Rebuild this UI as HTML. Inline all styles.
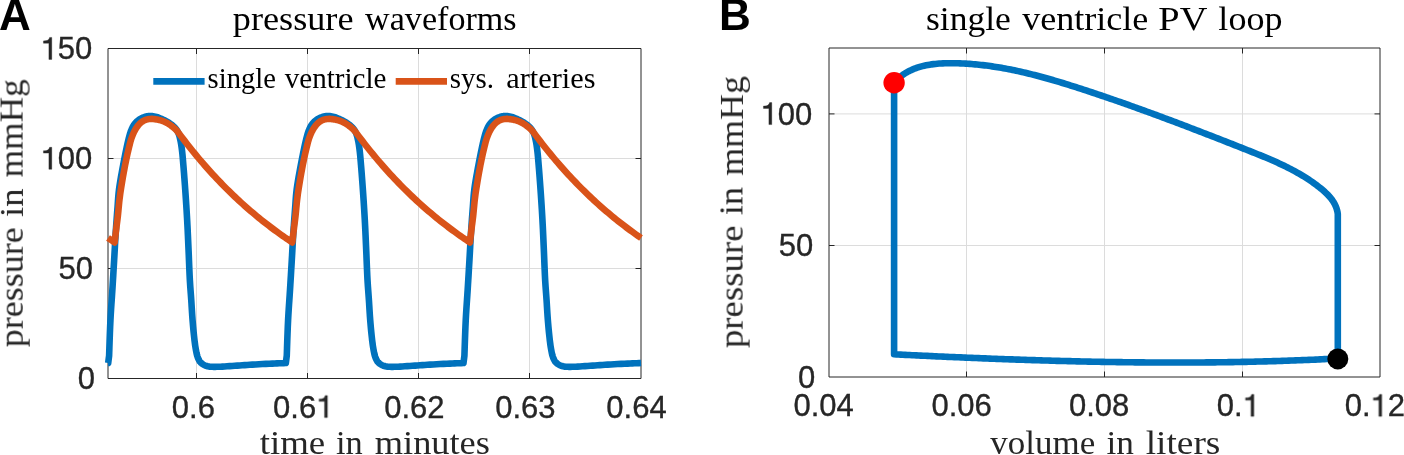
<!DOCTYPE html>
<html><head><meta charset="utf-8"><title>pressure waveforms and PV loop</title>
<style>html,body{margin:0;padding:0;background:#fff;overflow:hidden}svg{display:block;will-change:transform}svg text{will-change:transform}</style>
</head><body>
<svg width="1404" height="455" viewBox="0 0 1404 455">
<rect width="1404" height="455" fill="#fff"/>
<line x1="196.50" y1="48.5" x2="196.50" y2="378.5" stroke="#dcdcdc" stroke-width="1.0"/>
<line x1="307.50" y1="48.5" x2="307.50" y2="378.5" stroke="#dcdcdc" stroke-width="1.0"/>
<line x1="418.50" y1="48.5" x2="418.50" y2="378.5" stroke="#dcdcdc" stroke-width="1.0"/>
<line x1="529.50" y1="48.5" x2="529.50" y2="378.5" stroke="#dcdcdc" stroke-width="1.0"/>
<line x1="108.0" y1="268.50" x2="641.0" y2="268.50" stroke="#dcdcdc" stroke-width="1.0"/>
<line x1="108.0" y1="158.50" x2="641.0" y2="158.50" stroke="#dcdcdc" stroke-width="1.0"/>
<path d="M108.0,48.5 L641.0,48.5 L641.0,378.5 L108.0,378.5 Z" fill="none" stroke="#262626" stroke-width="1.0" stroke-linejoin="miter"/>
<line x1="196.50" y1="378.5" x2="196.50" y2="373.0" stroke="#262626" stroke-width="1.0"/>
<line x1="196.50" y1="48.5" x2="196.50" y2="54.0" stroke="#262626" stroke-width="1.0"/>
<line x1="307.50" y1="378.5" x2="307.50" y2="373.0" stroke="#262626" stroke-width="1.0"/>
<line x1="307.50" y1="48.5" x2="307.50" y2="54.0" stroke="#262626" stroke-width="1.0"/>
<line x1="418.50" y1="378.5" x2="418.50" y2="373.0" stroke="#262626" stroke-width="1.0"/>
<line x1="418.50" y1="48.5" x2="418.50" y2="54.0" stroke="#262626" stroke-width="1.0"/>
<line x1="529.50" y1="378.5" x2="529.50" y2="373.0" stroke="#262626" stroke-width="1.0"/>
<line x1="529.50" y1="48.5" x2="529.50" y2="54.0" stroke="#262626" stroke-width="1.0"/>
<line x1="108.0" y1="268.50" x2="113.5" y2="268.50" stroke="#262626" stroke-width="1.0"/>
<line x1="641.0" y1="268.50" x2="635.5" y2="268.50" stroke="#262626" stroke-width="1.0"/>
<line x1="108.0" y1="158.50" x2="113.5" y2="158.50" stroke="#262626" stroke-width="1.0"/>
<line x1="641.0" y1="158.50" x2="635.5" y2="158.50" stroke="#262626" stroke-width="1.0"/>
<path d="M108.00,363.01 L108.20,363.00 L109.11,355.74 L109.36,348.38 L109.60,341.02 L109.86,333.76 L110.14,326.72 L110.45,320.00 L110.74,314.69 L111.05,309.60 L111.37,304.66 L111.71,299.80 L112.03,294.94 L112.35,290.00 L112.66,284.99 L112.96,279.96 L113.27,274.94 L113.56,269.92 L113.86,264.94 L114.15,260.00 L114.42,255.26 L114.68,250.54 L114.94,245.84 L115.20,241.18 L115.47,236.56 L115.75,232.00 L116.04,227.69 L116.33,223.38 L116.64,219.11 L116.95,214.92 L117.25,210.87 L117.55,207.00 L117.77,204.01 L117.95,201.21 L118.14,198.49 L118.35,195.78 L118.61,192.98 L118.95,190.00 L119.50,186.03 L120.16,181.78 L120.90,177.39 L121.68,173.03 L122.44,168.85 L123.15,165.00 L123.67,162.24 L124.18,159.60 L124.69,157.07 L125.18,154.63 L125.67,152.28 L126.15,150.00 L126.52,148.21 L126.88,146.50 L127.22,144.85 L127.58,143.23 L127.95,141.62 L128.35,140.00 L128.76,138.38 L129.18,136.74 L129.62,135.11 L130.09,133.52 L130.59,131.97 L131.15,130.50 L131.68,129.24 L132.24,128.01 L132.82,126.82 L133.45,125.68 L134.12,124.60 L134.85,123.60 L135.56,122.75 L136.33,121.96 L137.13,121.22 L137.96,120.53 L138.80,119.89 L139.65,119.30 L140.43,118.81 L141.23,118.37 L142.04,117.97 L142.86,117.61 L143.70,117.29 L144.55,117.00 L145.42,116.74 L146.30,116.50 L147.19,116.31 L148.10,116.15 L149.02,116.05 L149.95,116.00 L150.99,116.01 L152.06,116.09 L153.14,116.23 L154.23,116.41 L155.30,116.64 L156.35,116.90 L157.38,117.21 L158.40,117.58 L159.42,117.99 L160.41,118.42 L161.39,118.87 L162.35,119.30 L163.22,119.69 L164.07,120.08 L164.90,120.48 L165.72,120.90 L166.54,121.33 L167.35,121.80 L168.21,122.33 L169.08,122.88 L169.94,123.47 L170.78,124.07 L171.59,124.68 L172.35,125.30 L173.00,125.86 L173.62,126.42 L174.22,126.98 L174.79,127.57 L175.33,128.17 L175.85,128.80 L176.33,129.44 L176.78,130.10 L177.21,130.77 L177.61,131.47 L177.99,132.21 L178.35,133.00 L178.76,134.03 L179.12,135.13 L179.46,136.29 L179.77,137.49 L180.06,138.73 L180.35,140.00 L180.67,141.53 L180.96,143.12 L181.23,144.75 L181.48,146.44 L181.72,148.19 L181.95,150.00 L182.22,152.28 L182.46,154.63 L182.68,157.07 L182.90,159.60 L183.12,162.24 L183.35,165.00 L183.66,168.77 L183.98,172.78 L184.30,176.96 L184.62,181.26 L184.94,185.63 L185.25,190.00 L185.58,194.84 L185.92,199.80 L186.24,204.83 L186.56,209.90 L186.86,214.97 L187.15,220.00 L187.41,225.00 L187.66,230.00 L187.89,235.00 L188.11,240.00 L188.33,245.00 L188.55,250.00 L188.77,255.07 L188.97,260.22 L189.18,265.38 L189.39,270.45 L189.61,275.35 L189.85,280.00 L190.07,283.57 L190.30,286.97 L190.54,290.25 L190.78,293.48 L191.02,296.71 L191.25,300.00 L191.47,303.35 L191.67,306.71 L191.87,310.07 L192.08,313.41 L192.31,316.73 L192.55,320.00 L192.80,323.11 L193.07,326.24 L193.36,329.34 L193.65,332.37 L193.95,335.27 L194.25,338.00 L194.48,340.01 L194.71,341.94 L194.95,343.79 L195.19,345.58 L195.46,347.31 L195.75,349.00 L196.01,350.40 L196.26,351.78 L196.53,353.11 L196.83,354.39 L197.16,355.63 L197.55,356.80 L197.91,357.75 L198.28,358.67 L198.69,359.56 L199.13,360.39 L199.61,361.18 L200.15,361.90 L200.70,362.51 L201.29,363.07 L201.92,363.59 L202.58,364.07 L203.26,364.50 L203.95,364.90 L204.65,365.25 L205.37,365.55 L206.11,365.81 L206.87,366.03 L207.61,366.23 L208.35,366.40 L209.00,366.53 L209.62,366.62 L210.24,366.69 L210.89,366.73 L211.58,366.77 L212.35,366.80 L213.73,366.83 L215.27,366.83 L216.94,366.80 L218.70,366.75 L220.51,366.68 L222.35,366.60 L224.68,366.48 L227.13,366.33 L229.66,366.15 L232.24,365.96 L234.82,365.78 L237.35,365.60 L239.82,365.43 L242.27,365.26 L244.71,365.09 L247.19,364.92 L249.72,364.76 L252.35,364.60 L255.56,364.42 L258.95,364.24 L262.41,364.07 L265.87,363.91 L269.21,363.75 L272.35,363.60 L274.75,363.49 L277.05,363.39 L279.27,363.29 L281.45,363.19 L283.63,363.10 L285.85,363.00 L286.76,355.74 L287.01,348.38 L287.25,341.02 L287.51,333.76 L287.79,326.72 L288.10,320.00 L288.39,314.69 L288.70,309.60 L289.02,304.66 L289.36,299.80 L289.68,294.94 L290.00,290.00 L290.31,284.99 L290.61,279.96 L290.92,274.94 L291.21,269.92 L291.51,264.94 L291.80,260.00 L292.07,255.26 L292.33,250.54 L292.59,245.84 L292.85,241.18 L293.12,236.56 L293.40,232.00 L293.69,227.69 L293.98,223.38 L294.29,219.11 L294.60,214.92 L294.90,210.87 L295.20,207.00 L295.42,204.01 L295.60,201.21 L295.79,198.49 L296.00,195.78 L296.26,192.98 L296.60,190.00 L297.15,186.03 L297.81,181.78 L298.55,177.39 L299.33,173.03 L300.09,168.85 L300.80,165.00 L301.32,162.24 L301.83,159.60 L302.34,157.07 L302.83,154.63 L303.32,152.28 L303.80,150.00 L304.17,148.21 L304.53,146.50 L304.87,144.85 L305.23,143.23 L305.60,141.62 L306.00,140.00 L306.41,138.38 L306.83,136.74 L307.27,135.11 L307.74,133.52 L308.24,131.97 L308.80,130.50 L309.33,129.24 L309.89,128.01 L310.47,126.82 L311.10,125.68 L311.77,124.60 L312.50,123.60 L313.21,122.75 L313.98,121.96 L314.78,121.22 L315.61,120.53 L316.45,119.89 L317.30,119.30 L318.08,118.81 L318.88,118.37 L319.69,117.97 L320.51,117.61 L321.35,117.29 L322.20,117.00 L323.07,116.74 L323.95,116.50 L324.84,116.31 L325.75,116.15 L326.67,116.05 L327.60,116.00 L328.64,116.01 L329.71,116.09 L330.79,116.23 L331.88,116.41 L332.95,116.64 L334.00,116.90 L335.03,117.21 L336.05,117.58 L337.07,117.99 L338.06,118.42 L339.04,118.87 L340.00,119.30 L340.87,119.69 L341.72,120.08 L342.55,120.48 L343.37,120.90 L344.19,121.33 L345.00,121.80 L345.86,122.33 L346.73,122.88 L347.59,123.47 L348.43,124.07 L349.24,124.68 L350.00,125.30 L350.65,125.86 L351.27,126.42 L351.87,126.98 L352.44,127.57 L352.98,128.17 L353.50,128.80 L353.98,129.44 L354.43,130.10 L354.86,130.77 L355.26,131.47 L355.64,132.21 L356.00,133.00 L356.41,134.03 L356.77,135.13 L357.11,136.29 L357.42,137.49 L357.71,138.73 L358.00,140.00 L358.32,141.53 L358.61,143.12 L358.88,144.75 L359.13,146.44 L359.37,148.19 L359.60,150.00 L359.87,152.28 L360.11,154.63 L360.33,157.07 L360.55,159.60 L360.77,162.24 L361.00,165.00 L361.31,168.77 L361.63,172.78 L361.95,176.96 L362.27,181.26 L362.59,185.63 L362.90,190.00 L363.23,194.84 L363.57,199.80 L363.89,204.83 L364.21,209.90 L364.51,214.97 L364.80,220.00 L365.06,225.00 L365.31,230.00 L365.54,235.00 L365.76,240.00 L365.98,245.00 L366.20,250.00 L366.42,255.07 L366.62,260.22 L366.83,265.38 L367.04,270.45 L367.26,275.35 L367.50,280.00 L367.72,283.57 L367.95,286.97 L368.19,290.25 L368.43,293.48 L368.67,296.71 L368.90,300.00 L369.12,303.35 L369.32,306.71 L369.52,310.07 L369.73,313.41 L369.96,316.73 L370.20,320.00 L370.45,323.11 L370.72,326.24 L371.01,329.34 L371.30,332.37 L371.60,335.27 L371.90,338.00 L372.13,340.01 L372.36,341.94 L372.60,343.79 L372.84,345.58 L373.11,347.31 L373.40,349.00 L373.66,350.40 L373.91,351.78 L374.18,353.11 L374.48,354.39 L374.81,355.63 L375.20,356.80 L375.56,357.75 L375.93,358.67 L376.34,359.56 L376.78,360.39 L377.26,361.18 L377.80,361.90 L378.35,362.51 L378.94,363.07 L379.57,363.59 L380.23,364.07 L380.91,364.50 L381.60,364.90 L382.30,365.25 L383.02,365.55 L383.76,365.81 L384.52,366.03 L385.26,366.23 L386.00,366.40 L386.65,366.53 L387.27,366.62 L387.89,366.69 L388.54,366.73 L389.23,366.77 L390.00,366.80 L391.38,366.83 L392.92,366.83 L394.59,366.80 L396.35,366.75 L398.16,366.68 L400.00,366.60 L402.33,366.48 L404.78,366.33 L407.31,366.15 L409.89,365.96 L412.47,365.78 L415.00,365.60 L417.47,365.43 L419.92,365.26 L422.36,365.09 L424.84,364.92 L427.37,364.76 L430.00,364.60 L433.21,364.42 L436.60,364.24 L440.06,364.07 L443.52,363.91 L446.86,363.75 L450.00,363.60 L452.40,363.49 L454.70,363.39 L456.92,363.29 L459.10,363.19 L461.28,363.10 L463.50,363.00 L464.41,355.74 L464.66,348.38 L464.90,341.02 L465.16,333.76 L465.44,326.72 L465.75,320.00 L466.04,314.69 L466.35,309.60 L466.67,304.66 L467.01,299.80 L467.33,294.94 L467.65,290.00 L467.96,284.99 L468.26,279.96 L468.57,274.94 L468.86,269.92 L469.16,264.94 L469.45,260.00 L469.72,255.26 L469.98,250.54 L470.24,245.84 L470.50,241.18 L470.77,236.56 L471.05,232.00 L471.34,227.69 L471.63,223.38 L471.94,219.11 L472.25,214.92 L472.55,210.87 L472.85,207.00 L473.07,204.01 L473.25,201.21 L473.44,198.49 L473.65,195.78 L473.91,192.98 L474.25,190.00 L474.80,186.03 L475.46,181.78 L476.20,177.39 L476.98,173.03 L477.74,168.85 L478.45,165.00 L478.97,162.24 L479.48,159.60 L479.99,157.07 L480.48,154.63 L480.97,152.28 L481.45,150.00 L481.82,148.21 L482.18,146.50 L482.52,144.85 L482.88,143.23 L483.25,141.62 L483.65,140.00 L484.06,138.38 L484.48,136.74 L484.92,135.11 L485.39,133.52 L485.89,131.97 L486.45,130.50 L486.98,129.24 L487.54,128.01 L488.12,126.82 L488.75,125.68 L489.42,124.60 L490.15,123.60 L490.86,122.75 L491.63,121.96 L492.43,121.22 L493.26,120.53 L494.10,119.89 L494.95,119.30 L495.73,118.81 L496.53,118.37 L497.34,117.97 L498.16,117.61 L499.00,117.29 L499.85,117.00 L500.72,116.74 L501.60,116.50 L502.49,116.31 L503.40,116.15 L504.32,116.05 L505.25,116.00 L506.29,116.01 L507.36,116.09 L508.44,116.23 L509.53,116.41 L510.60,116.64 L511.65,116.90 L512.68,117.21 L513.70,117.58 L514.72,117.99 L515.71,118.42 L516.69,118.87 L517.65,119.30 L518.52,119.69 L519.37,120.08 L520.20,120.48 L521.02,120.90 L521.84,121.33 L522.65,121.80 L523.51,122.33 L524.38,122.88 L525.24,123.47 L526.08,124.07 L526.89,124.68 L527.65,125.30 L528.30,125.86 L528.92,126.42 L529.52,126.98 L530.09,127.57 L530.63,128.17 L531.15,128.80 L531.63,129.44 L532.08,130.10 L532.51,130.77 L532.91,131.47 L533.29,132.21 L533.65,133.00 L534.06,134.03 L534.42,135.13 L534.76,136.29 L535.07,137.49 L535.36,138.73 L535.65,140.00 L535.97,141.53 L536.26,143.12 L536.53,144.75 L536.78,146.44 L537.02,148.19 L537.25,150.00 L537.52,152.28 L537.76,154.63 L537.98,157.07 L538.20,159.60 L538.42,162.24 L538.65,165.00 L538.96,168.77 L539.28,172.78 L539.60,176.96 L539.92,181.26 L540.24,185.63 L540.55,190.00 L540.88,194.84 L541.22,199.80 L541.54,204.83 L541.86,209.90 L542.16,214.97 L542.45,220.00 L542.71,225.00 L542.96,230.00 L543.19,235.00 L543.41,240.00 L543.63,245.00 L543.85,250.00 L544.07,255.07 L544.27,260.22 L544.48,265.38 L544.69,270.45 L544.91,275.35 L545.15,280.00 L545.37,283.57 L545.60,286.97 L545.84,290.25 L546.08,293.48 L546.32,296.71 L546.55,300.00 L546.77,303.35 L546.97,306.71 L547.17,310.07 L547.38,313.41 L547.61,316.73 L547.85,320.00 L548.10,323.11 L548.37,326.24 L548.66,329.34 L548.95,332.37 L549.25,335.27 L549.55,338.00 L549.78,340.01 L550.01,341.94 L550.25,343.79 L550.49,345.58 L550.76,347.31 L551.05,349.00 L551.31,350.40 L551.56,351.78 L551.83,353.11 L552.13,354.39 L552.46,355.63 L552.85,356.80 L553.21,357.75 L553.58,358.67 L553.99,359.56 L554.43,360.39 L554.91,361.18 L555.45,361.90 L556.00,362.51 L556.59,363.07 L557.22,363.59 L557.88,364.07 L558.56,364.50 L559.25,364.90 L559.95,365.25 L560.67,365.55 L561.41,365.81 L562.17,366.03 L562.91,366.23 L563.65,366.40 L564.30,366.53 L564.92,366.62 L565.54,366.69 L566.19,366.73 L566.88,366.77 L567.65,366.80 L569.03,366.83 L570.57,366.83 L572.24,366.80 L574.00,366.75 L575.81,366.68 L577.65,366.60 L579.98,366.48 L582.43,366.33 L584.96,366.15 L587.54,365.96 L590.12,365.78 L592.65,365.60 L595.12,365.43 L597.57,365.26 L600.01,365.09 L602.49,364.92 L605.02,364.76 L607.65,364.60 L610.86,364.42 L614.25,364.24 L617.71,364.07 L621.17,363.91 L624.51,363.75 L627.65,363.60 L630.05,363.49 L632.35,363.39 L634.57,363.29 L636.75,363.19 L638.93,363.10 L641.00,363.01" fill="none" stroke="#0072bd" stroke-width="6.6" stroke-linejoin="round" stroke-linecap="butt"/>
<path d="M108.00,237.92 L109.20,238.74 L111.20,240.10 L113.20,241.44 L114.65,242.40 L114.93,239.98 L115.22,237.55 L115.50,235.12 L115.79,232.70 L116.07,230.32 L116.35,228.00 L116.60,225.96 L116.86,223.98 L117.11,222.04 L117.36,220.09 L117.61,218.09 L117.85,216.00 L118.12,213.43 L118.39,210.73 L118.64,207.96 L118.91,205.20 L119.17,202.52 L119.45,200.00 L119.68,198.09 L119.90,196.33 L120.12,194.63 L120.36,192.90 L120.64,191.05 L120.95,189.00 L121.51,185.48 L122.17,181.51 L122.89,177.29 L123.65,173.00 L124.41,168.84 L125.15,165.00 L125.74,162.03 L126.34,159.14 L126.94,156.34 L127.54,153.63 L128.15,151.02 L128.75,148.50 L129.23,146.52 L129.69,144.62 L130.14,142.78 L130.62,140.99 L131.15,139.23 L131.75,137.50 L132.38,135.85 L133.04,134.22 L133.75,132.62 L134.51,131.06 L135.31,129.58 L136.15,128.20 L136.94,127.05 L137.76,125.93 L138.62,124.88 L139.51,123.89 L140.42,122.99 L141.35,122.20 L142.15,121.61 L142.96,121.10 L143.79,120.64 L144.63,120.24 L145.48,119.90 L146.35,119.60 L147.21,119.36 L148.08,119.18 L148.96,119.05 L149.85,118.97 L150.75,118.92 L151.65,118.90 L152.59,118.92 L153.55,119.00 L154.51,119.12 L155.47,119.26 L156.42,119.43 L157.35,119.60 L158.21,119.77 L159.05,119.95 L159.88,120.15 L160.71,120.38 L161.53,120.62 L162.35,120.90 L163.20,121.22 L164.04,121.56 L164.87,121.93 L165.71,122.33 L166.53,122.75 L167.35,123.20 L168.21,123.71 L169.07,124.25 L169.92,124.82 L170.76,125.41 L171.57,126.01 L172.35,126.60 L173.04,127.14 L173.70,127.67 L174.35,128.22 L174.98,128.77 L175.58,129.33 L176.15,129.90 L176.64,130.44 L177.11,130.98 L177.55,131.53 L177.98,132.09 L178.41,132.65 L178.85,133.20 L180.85,135.88 L182.85,138.52 L184.85,141.13 L186.85,143.70 L188.85,146.25 L190.85,148.76 L192.85,151.24 L194.85,153.69 L196.85,156.11 L198.85,158.50 L200.85,160.86 L202.85,163.19 L204.85,165.49 L206.85,167.77 L208.85,170.01 L210.85,172.23 L212.85,174.42 L214.85,176.58 L216.85,178.71 L218.85,180.82 L220.85,182.90 L222.85,184.95 L224.85,186.98 L226.85,188.99 L228.85,190.96 L230.85,192.92 L232.85,194.85 L234.85,196.75 L236.85,198.63 L238.85,200.49 L240.85,202.33 L242.85,204.14 L244.85,205.93 L246.85,207.70 L248.85,209.44 L250.85,211.16 L252.85,212.86 L254.85,214.54 L256.85,216.20 L258.85,217.84 L260.85,219.46 L262.85,221.06 L264.85,222.64 L266.85,224.19 L268.85,225.73 L270.85,227.25 L272.85,228.75 L274.85,230.23 L276.85,231.70 L278.85,233.14 L280.85,234.57 L282.85,235.98 L284.85,237.37 L286.85,238.74 L288.85,240.10 L290.85,241.44 L292.30,242.40 L292.58,239.98 L292.87,237.55 L293.15,235.12 L293.44,232.70 L293.72,230.32 L294.00,228.00 L294.25,225.96 L294.51,223.98 L294.76,222.04 L295.01,220.09 L295.26,218.09 L295.50,216.00 L295.77,213.43 L296.04,210.73 L296.29,207.96 L296.56,205.20 L296.82,202.52 L297.10,200.00 L297.33,198.09 L297.55,196.33 L297.77,194.63 L298.01,192.90 L298.29,191.05 L298.60,189.00 L299.16,185.48 L299.82,181.51 L300.54,177.29 L301.30,173.00 L302.06,168.84 L302.80,165.00 L303.39,162.03 L303.99,159.14 L304.59,156.34 L305.19,153.63 L305.80,151.02 L306.40,148.50 L306.88,146.52 L307.34,144.62 L307.79,142.78 L308.27,140.99 L308.80,139.23 L309.40,137.50 L310.03,135.85 L310.69,134.22 L311.40,132.62 L312.16,131.06 L312.96,129.58 L313.80,128.20 L314.59,127.05 L315.41,125.93 L316.27,124.88 L317.16,123.89 L318.07,122.99 L319.00,122.20 L319.80,121.61 L320.61,121.10 L321.44,120.64 L322.28,120.24 L323.13,119.90 L324.00,119.60 L324.86,119.36 L325.73,119.18 L326.61,119.05 L327.50,118.97 L328.40,118.92 L329.30,118.90 L330.24,118.92 L331.20,119.00 L332.16,119.12 L333.12,119.26 L334.07,119.43 L335.00,119.60 L335.86,119.77 L336.70,119.95 L337.53,120.15 L338.36,120.38 L339.18,120.62 L340.00,120.90 L340.85,121.22 L341.69,121.56 L342.52,121.93 L343.36,122.33 L344.18,122.75 L345.00,123.20 L345.86,123.71 L346.72,124.25 L347.57,124.82 L348.41,125.41 L349.22,126.01 L350.00,126.60 L350.69,127.14 L351.35,127.67 L352.00,128.22 L352.63,128.77 L353.23,129.33 L353.80,129.90 L354.29,130.44 L354.76,130.98 L355.20,131.53 L355.63,132.09 L356.06,132.65 L356.50,133.20 L358.50,135.88 L360.50,138.52 L362.50,141.13 L364.50,143.70 L366.50,146.25 L368.50,148.76 L370.50,151.24 L372.50,153.69 L374.50,156.11 L376.50,158.50 L378.50,160.86 L380.50,163.19 L382.50,165.49 L384.50,167.77 L386.50,170.01 L388.50,172.23 L390.50,174.42 L392.50,176.58 L394.50,178.71 L396.50,180.82 L398.50,182.90 L400.50,184.95 L402.50,186.98 L404.50,188.99 L406.50,190.96 L408.50,192.92 L410.50,194.85 L412.50,196.75 L414.50,198.63 L416.50,200.49 L418.50,202.33 L420.50,204.14 L422.50,205.93 L424.50,207.70 L426.50,209.44 L428.50,211.16 L430.50,212.86 L432.50,214.54 L434.50,216.20 L436.50,217.84 L438.50,219.46 L440.50,221.06 L442.50,222.64 L444.50,224.19 L446.50,225.73 L448.50,227.25 L450.50,228.75 L452.50,230.23 L454.50,231.70 L456.50,233.14 L458.50,234.57 L460.50,235.98 L462.50,237.37 L464.50,238.74 L466.50,240.10 L468.50,241.44 L469.95,242.40 L470.23,239.98 L470.52,237.55 L470.80,235.12 L471.09,232.70 L471.37,230.32 L471.65,228.00 L471.90,225.96 L472.16,223.98 L472.41,222.04 L472.66,220.09 L472.91,218.09 L473.15,216.00 L473.42,213.43 L473.69,210.73 L473.94,207.96 L474.21,205.20 L474.47,202.52 L474.75,200.00 L474.98,198.09 L475.20,196.33 L475.42,194.63 L475.66,192.90 L475.94,191.05 L476.25,189.00 L476.81,185.48 L477.47,181.51 L478.19,177.29 L478.95,173.00 L479.71,168.84 L480.45,165.00 L481.04,162.03 L481.64,159.14 L482.24,156.34 L482.84,153.63 L483.45,151.02 L484.05,148.50 L484.53,146.52 L484.99,144.62 L485.44,142.78 L485.92,140.99 L486.45,139.23 L487.05,137.50 L487.68,135.85 L488.34,134.22 L489.05,132.62 L489.81,131.06 L490.61,129.58 L491.45,128.20 L492.24,127.05 L493.06,125.93 L493.92,124.88 L494.81,123.89 L495.72,122.99 L496.65,122.20 L497.45,121.61 L498.26,121.10 L499.09,120.64 L499.93,120.24 L500.78,119.90 L501.65,119.60 L502.51,119.36 L503.38,119.18 L504.26,119.05 L505.15,118.97 L506.05,118.92 L506.95,118.90 L507.89,118.92 L508.85,119.00 L509.81,119.12 L510.77,119.26 L511.72,119.43 L512.65,119.60 L513.51,119.77 L514.35,119.95 L515.18,120.15 L516.01,120.38 L516.83,120.62 L517.65,120.90 L518.50,121.22 L519.34,121.56 L520.17,121.93 L521.01,122.33 L521.83,122.75 L522.65,123.20 L523.51,123.71 L524.37,124.25 L525.22,124.82 L526.06,125.41 L526.87,126.01 L527.65,126.60 L528.34,127.14 L529.00,127.67 L529.65,128.22 L530.28,128.77 L530.88,129.33 L531.45,129.90 L531.94,130.44 L532.41,130.98 L532.85,131.53 L533.28,132.09 L533.71,132.65 L534.15,133.20 L536.15,135.88 L538.15,138.52 L540.15,141.13 L542.15,143.70 L544.15,146.25 L546.15,148.76 L548.15,151.24 L550.15,153.69 L552.15,156.11 L554.15,158.50 L556.15,160.86 L558.15,163.19 L560.15,165.49 L562.15,167.77 L564.15,170.01 L566.15,172.23 L568.15,174.42 L570.15,176.58 L572.15,178.71 L574.15,180.82 L576.15,182.90 L578.15,184.95 L580.15,186.98 L582.15,188.99 L584.15,190.96 L586.15,192.92 L588.15,194.85 L590.15,196.75 L592.15,198.63 L594.15,200.49 L596.15,202.33 L598.15,204.14 L600.15,205.93 L602.15,207.70 L604.15,209.44 L606.15,211.16 L608.15,212.86 L610.15,214.54 L612.15,216.20 L614.15,217.84 L616.15,219.46 L618.15,221.06 L620.15,222.64 L622.15,224.19 L624.15,225.73 L626.15,227.25 L628.15,228.75 L630.15,230.23 L632.15,231.70 L634.15,233.14 L636.15,234.57 L638.15,235.98 L640.15,237.37 L641.00,237.95" fill="none" stroke="#d95319" stroke-width="6.6" stroke-linejoin="round" stroke-linecap="butt"/>
<line x1="153.3" y1="81.4" x2="204.6" y2="81.4" stroke="#0072bd" stroke-width="6.9"/>
<line x1="395.7" y1="81.4" x2="447.0" y2="81.4" stroke="#d95319" stroke-width="6.9"/>
<line x1="966.50" y1="48.0" x2="966.50" y2="377.0" stroke="#dcdcdc" stroke-width="1.0"/>
<line x1="1104.50" y1="48.0" x2="1104.50" y2="377.0" stroke="#dcdcdc" stroke-width="1.0"/>
<line x1="1242.50" y1="48.0" x2="1242.50" y2="377.0" stroke="#dcdcdc" stroke-width="1.0"/>
<line x1="829.0" y1="245.50" x2="1380.0" y2="245.50" stroke="#dcdcdc" stroke-width="1.0"/>
<line x1="829.0" y1="113.90" x2="1380.0" y2="113.90" stroke="#dcdcdc" stroke-width="1.0"/>
<path d="M829.0,48.0 L1380.0,48.0 L1380.0,377.0 L829.0,377.0 Z" fill="none" stroke="#262626" stroke-width="1.0" stroke-linejoin="miter"/>
<line x1="966.50" y1="377.0" x2="966.50" y2="371.5" stroke="#262626" stroke-width="1.0"/>
<line x1="966.50" y1="48.0" x2="966.50" y2="53.5" stroke="#262626" stroke-width="1.0"/>
<line x1="1104.50" y1="377.0" x2="1104.50" y2="371.5" stroke="#262626" stroke-width="1.0"/>
<line x1="1104.50" y1="48.0" x2="1104.50" y2="53.5" stroke="#262626" stroke-width="1.0"/>
<line x1="1242.50" y1="377.0" x2="1242.50" y2="371.5" stroke="#262626" stroke-width="1.0"/>
<line x1="1242.50" y1="48.0" x2="1242.50" y2="53.5" stroke="#262626" stroke-width="1.0"/>
<line x1="829.0" y1="245.50" x2="834.5" y2="245.50" stroke="#262626" stroke-width="1.0"/>
<line x1="1380.0" y1="245.50" x2="1374.5" y2="245.50" stroke="#262626" stroke-width="1.0"/>
<line x1="829.0" y1="113.90" x2="834.5" y2="113.90" stroke="#262626" stroke-width="1.0"/>
<line x1="1380.0" y1="113.90" x2="1374.5" y2="113.90" stroke="#262626" stroke-width="1.0"/>
<path d="M894.10,82.70 L894.10,354.30 L896.33,354.41 L898.55,354.52 L900.78,354.63 L903.01,354.74 L905.24,354.85 L907.46,354.96 L909.69,355.07 L911.92,355.18 L914.15,355.28 L916.37,355.39 L918.60,355.50 L920.83,355.60 L923.06,355.71 L925.29,355.81 L927.51,355.92 L929.74,356.02 L931.97,356.12 L934.20,356.22 L936.43,356.33 L938.65,356.43 L940.88,356.53 L943.11,356.63 L945.34,356.73 L947.57,356.83 L949.80,356.93 L952.02,357.03 L954.25,357.12 L956.48,357.22 L958.71,357.32 L960.94,357.41 L963.17,357.51 L965.40,357.60 L967.62,357.69 L969.85,357.79 L972.08,357.88 L974.31,357.97 L976.54,358.06 L978.77,358.15 L981.00,358.24 L983.23,358.33 L985.46,358.42 L987.69,358.51 L989.92,358.59 L992.14,358.68 L994.37,358.77 L996.60,358.85 L998.83,358.93 L1001.06,359.02 L1003.29,359.10 L1005.52,359.18 L1007.75,359.26 L1009.98,359.34 L1012.21,359.42 L1014.44,359.50 L1016.67,359.58 L1018.90,359.65 L1021.13,359.73 L1023.36,359.80 L1025.59,359.88 L1027.82,359.95 L1030.05,360.02 L1032.28,360.10 L1034.51,360.17 L1036.74,360.24 L1038.97,360.31 L1041.20,360.37 L1043.43,360.44 L1045.66,360.51 L1047.89,360.57 L1050.12,360.64 L1052.35,360.70 L1054.58,360.76 L1056.81,360.83 L1059.04,360.89 L1061.27,360.95 L1063.50,361.00 L1065.73,361.06 L1067.96,361.12 L1070.19,361.17 L1072.42,361.23 L1074.65,361.28 L1076.88,361.34 L1079.11,361.39 L1081.34,361.44 L1083.57,361.49 L1085.80,361.54 L1088.03,361.59 L1090.26,361.63 L1092.49,361.68 L1094.72,361.72 L1096.95,361.77 L1099.18,361.81 L1101.41,361.85 L1103.64,361.89 L1105.87,361.93 L1108.10,361.97 L1110.33,362.00 L1112.56,362.04 L1114.79,362.07 L1117.03,362.11 L1119.26,362.14 L1121.49,362.17 L1123.72,362.20 L1125.95,362.23 L1128.18,362.26 L1130.41,362.28 L1132.64,362.31 L1134.87,362.33 L1137.10,362.35 L1139.33,362.37 L1141.56,362.39 L1143.79,362.41 L1146.02,362.43 L1148.25,362.45 L1150.48,362.46 L1152.71,362.48 L1154.94,362.49 L1157.18,362.50 L1159.41,362.51 L1161.64,362.52 L1163.87,362.53 L1166.10,362.53 L1168.33,362.54 L1170.56,362.54 L1172.79,362.55 L1175.02,362.55 L1177.25,362.55 L1179.48,362.54 L1181.71,362.54 L1183.94,362.54 L1186.17,362.53 L1188.40,362.52 L1190.63,362.52 L1192.86,362.51 L1195.09,362.49 L1197.32,362.48 L1199.55,362.47 L1201.79,362.45 L1204.02,362.43 L1206.25,362.42 L1208.48,362.40 L1210.71,362.37 L1212.94,362.35 L1215.17,362.33 L1217.40,362.30 L1219.63,362.27 L1221.86,362.24 L1224.09,362.21 L1226.32,362.18 L1228.55,362.15 L1230.78,362.11 L1233.01,362.08 L1235.24,362.04 L1237.47,362.00 L1239.70,361.96 L1241.93,361.92 L1244.16,361.87 L1246.39,361.83 L1248.62,361.78 L1250.85,361.73 L1253.08,361.68 L1255.31,361.63 L1257.54,361.57 L1259.77,361.52 L1262.00,361.46 L1264.23,361.40 L1266.46,361.34 L1268.69,361.28 L1270.92,361.22 L1273.15,361.15 L1275.38,361.08 L1277.61,361.01 L1279.84,360.94 L1282.07,360.87 L1284.30,360.80 L1286.53,360.72 L1288.76,360.65 L1290.99,360.57 L1293.22,360.49 L1295.45,360.40 L1297.68,360.32 L1299.91,360.23 L1302.13,360.15 L1304.36,360.06 L1306.59,359.97 L1308.82,359.87 L1311.05,359.78 L1313.28,359.68 L1315.51,359.58 L1317.74,359.48 L1319.97,359.38 L1322.20,359.28 L1324.43,359.17 L1326.66,359.06 L1328.88,358.95 L1331.11,358.84 L1333.34,358.73 L1335.57,358.62 L1337.80,358.50 L1337.80,214.00 L1337.50,212.06 L1337.07,210.18 L1336.53,208.38 L1335.88,206.64 L1335.14,204.95 L1334.30,203.33 L1333.37,201.76 L1332.36,200.24 L1331.28,198.77 L1330.13,197.35 L1328.92,195.96 L1327.66,194.62 L1326.34,193.31 L1324.99,192.04 L1323.59,190.80 L1322.17,189.58 L1320.73,188.39 L1319.27,187.22 L1317.80,186.07 L1316.32,184.94 L1314.82,183.83 L1313.31,182.74 L1311.78,181.67 L1310.24,180.61 L1308.69,179.58 L1307.13,178.55 L1305.56,177.55 L1303.98,176.56 L1302.38,175.59 L1300.78,174.64 L1299.16,173.70 L1297.54,172.77 L1295.91,171.86 L1294.26,170.96 L1292.61,170.07 L1290.95,169.20 L1289.28,168.34 L1287.61,167.49 L1285.93,166.65 L1284.23,165.82 L1282.54,165.01 L1280.83,164.20 L1279.12,163.40 L1277.41,162.62 L1275.69,161.84 L1273.96,161.07 L1272.23,160.30 L1270.49,159.55 L1268.75,158.80 L1267.01,158.06 L1265.26,157.32 L1263.51,156.59 L1261.75,155.87 L1260.00,155.15 L1258.24,154.43 L1256.48,153.72 L1254.71,153.01 L1252.95,152.31 L1251.18,151.60 L1249.42,150.90 L1247.65,150.20 L1245.88,149.51 L1244.12,148.81 L1242.35,148.11 L1240.59,147.42 L1238.82,146.72 L1237.06,146.03 L1235.29,145.33 L1233.53,144.64 L1231.77,143.94 L1230.00,143.25 L1228.24,142.56 L1226.48,141.87 L1224.72,141.18 L1222.95,140.49 L1221.19,139.80 L1219.43,139.11 L1217.67,138.43 L1215.91,137.74 L1214.15,137.05 L1212.39,136.37 L1210.63,135.68 L1208.87,135.00 L1207.11,134.32 L1205.34,133.64 L1203.58,132.96 L1201.82,132.28 L1200.06,131.60 L1198.30,130.92 L1196.54,130.24 L1194.78,129.57 L1193.02,128.89 L1191.26,128.22 L1189.50,127.54 L1187.74,126.87 L1185.98,126.20 L1184.22,125.53 L1182.46,124.86 L1180.70,124.19 L1178.94,123.53 L1177.18,122.86 L1175.42,122.20 L1173.66,121.53 L1171.90,120.87 L1170.14,120.21 L1168.38,119.55 L1166.62,118.89 L1164.85,118.24 L1163.09,117.58 L1161.33,116.92 L1159.57,116.27 L1157.80,115.62 L1156.04,114.97 L1154.28,114.32 L1152.51,113.67 L1150.75,113.02 L1148.98,112.37 L1147.22,111.73 L1145.45,111.09 L1143.69,110.44 L1141.92,109.80 L1140.15,109.17 L1138.39,108.53 L1136.62,107.89 L1134.85,107.26 L1133.08,106.62 L1131.31,105.99 L1129.54,105.36 L1127.77,104.73 L1126.00,104.11 L1124.23,103.48 L1122.46,102.86 L1120.68,102.23 L1118.91,101.61 L1117.14,100.99 L1115.36,100.38 L1113.59,99.76 L1111.81,99.15 L1110.03,98.53 L1108.26,97.92 L1106.48,97.31 L1104.70,96.71 L1102.92,96.10 L1101.14,95.50 L1099.36,94.89 L1097.58,94.29 L1095.79,93.69 L1094.01,93.10 L1092.22,92.50 L1090.44,91.91 L1088.65,91.32 L1086.87,90.73 L1085.08,90.14 L1083.29,89.55 L1081.50,88.97 L1079.71,88.39 L1077.92,87.81 L1076.12,87.23 L1074.33,86.66 L1072.53,86.09 L1070.74,85.52 L1068.94,84.95 L1067.14,84.39 L1065.34,83.83 L1063.54,83.28 L1061.74,82.73 L1059.94,82.18 L1058.13,81.64 L1056.33,81.10 L1054.52,80.57 L1052.71,80.04 L1050.90,79.52 L1049.09,79.00 L1047.28,78.49 L1045.46,77.98 L1043.65,77.48 L1041.83,76.98 L1040.01,76.49 L1038.19,76.01 L1036.37,75.53 L1034.55,75.06 L1032.73,74.59 L1030.90,74.14 L1029.07,73.68 L1027.24,73.24 L1025.41,72.80 L1023.58,72.37 L1021.75,71.95 L1019.91,71.54 L1018.07,71.13 L1016.23,70.73 L1014.39,70.34 L1012.55,69.96 L1010.70,69.59 L1008.86,69.22 L1007.01,68.87 L1005.16,68.52 L1003.31,68.19 L1001.45,67.86 L999.60,67.54 L997.74,67.23 L995.88,66.94 L994.01,66.65 L992.15,66.37 L990.28,66.10 L988.41,65.85 L986.54,65.60 L984.67,65.36 L982.79,65.14 L980.92,64.93 L979.04,64.73 L977.16,64.54 L975.27,64.36 L973.38,64.19 L971.50,64.04 L969.60,63.90 L967.71,63.77 L965.82,63.65 L963.92,63.55 L962.02,63.46 L960.11,63.38 L958.21,63.32 L956.30,63.27 L954.39,63.23 L952.48,63.21 L950.56,63.20 L948.65,63.21 L946.73,63.24 L944.82,63.29 L942.92,63.36 L941.01,63.46 L939.12,63.58 L937.22,63.73 L935.34,63.91 L933.47,64.12 L931.60,64.36 L929.75,64.64 L927.91,64.95 L926.08,65.30 L924.27,65.69 L922.48,66.12 L920.70,66.59 L918.93,67.11 L917.19,67.67 L915.47,68.28 L913.77,68.93 L912.09,69.64 L910.43,70.40 L908.80,71.22 L907.20,72.09 L905.62,73.02 L904.07,74.00 L902.55,75.05 L901.06,76.16 L899.60,77.33 L898.17,78.57 L896.78,79.88 L895.42,81.25 L894.10,82.70" fill="none" stroke="#0072bd" stroke-width="6.6" stroke-linejoin="round" stroke-linecap="butt"/>
<circle cx="894.1" cy="82.7" r="10.7" fill="#ff0000"/>
<circle cx="1337.8" cy="358.9" r="10.5" fill="#000"/>
<text x="-1.10" y="29.90" font-family='"Liberation Sans", sans-serif' font-size="44" font-weight="bold" fill="#000" text-anchor="start">A</text>
<text x="719.00" y="29.90" font-family='"Liberation Sans", sans-serif' font-size="44" font-weight="bold" fill="#000" text-anchor="start">B</text>
<path d="M0.360,0 L0.360,0.709 L0.290,0.709 C0.276,0.655 0.246,0.618 0.190,0.606 C0.160,0.600 0.125,0.598 0.092,0.597 L0.092,0.522 L0.268,0.522 L0.268,0 Z" transform="translate(40.60 59.40) scale(31 -31)" fill="#262626" stroke="#262626" stroke-width="0.0113"/><text x="57.84" y="59.40" font-family='"Liberation Sans", sans-serif' font-size="31" fill="#262626" stroke="#262626" stroke-width="0.35">50</text>
<path d="M0.360,0 L0.360,0.709 L0.290,0.709 C0.276,0.655 0.246,0.618 0.190,0.606 C0.160,0.600 0.125,0.598 0.092,0.597 L0.092,0.522 L0.268,0.522 L0.268,0 Z" transform="translate(40.60 169.30) scale(31 -31)" fill="#262626" stroke="#262626" stroke-width="0.0113"/><text x="57.84" y="169.30" font-family='"Liberation Sans", sans-serif' font-size="31" fill="#262626" stroke="#262626" stroke-width="0.35">00</text>
<text x="58.50" y="279.30" font-family='"Liberation Sans", sans-serif' font-size="31" fill="#262626" stroke="#262626" stroke-width="0.35">50</text>
<text x="77.80" y="389.30" font-family='"Liberation Sans", sans-serif' font-size="31" fill="#262626" stroke="#262626" stroke-width="0.35">0</text>
<text x="171.80" y="417.60" font-family='"Liberation Sans", sans-serif' font-size="31" fill="#262626" stroke="#262626" stroke-width="0.35">0.6</text>
<text x="273.10" y="417.60" font-family='"Liberation Sans", sans-serif' font-size="31" fill="#262626" stroke="#262626" stroke-width="0.35">0.6</text><path d="M0.360,0 L0.360,0.709 L0.290,0.709 C0.276,0.655 0.246,0.618 0.190,0.606 C0.160,0.600 0.125,0.598 0.092,0.597 L0.092,0.522 L0.268,0.522 L0.268,0 Z" transform="translate(316.19 417.60) scale(31 -31)" fill="#262626" stroke="#262626" stroke-width="0.0113"/>
<text x="384.20" y="417.60" font-family='"Liberation Sans", sans-serif' font-size="31" fill="#262626" stroke="#262626" stroke-width="0.35">0.62</text>
<text x="495.20" y="417.60" font-family='"Liberation Sans", sans-serif' font-size="31" fill="#262626" stroke="#262626" stroke-width="0.35">0.63</text>
<text x="606.30" y="417.60" font-family='"Liberation Sans", sans-serif' font-size="31" fill="#262626" stroke="#262626" stroke-width="0.35">0.64</text>
<path d="M0.360,0 L0.360,0.709 L0.290,0.709 C0.276,0.655 0.246,0.618 0.190,0.606 C0.160,0.600 0.125,0.598 0.092,0.597 L0.092,0.522 L0.268,0.522 L0.268,0 Z" transform="translate(760.60 124.60) scale(31 -31)" fill="#262626" stroke="#262626" stroke-width="0.0113"/><text x="777.84" y="124.60" font-family='"Liberation Sans", sans-serif' font-size="31" fill="#262626" stroke="#262626" stroke-width="0.35">00</text>
<text x="778.70" y="256.20" font-family='"Liberation Sans", sans-serif' font-size="31" fill="#262626" stroke="#262626" stroke-width="0.35">50</text>
<text x="798.00" y="387.70" font-family='"Liberation Sans", sans-serif' font-size="31" fill="#262626" stroke="#262626" stroke-width="0.35">0</text>
<text x="793.50" y="416.40" font-family='"Liberation Sans", sans-serif' font-size="31" fill="#262626" stroke="#262626" stroke-width="0.35">0.04</text>
<text x="931.40" y="416.40" font-family='"Liberation Sans", sans-serif' font-size="31" fill="#262626" stroke="#262626" stroke-width="0.35">0.06</text>
<text x="1069.00" y="416.40" font-family='"Liberation Sans", sans-serif' font-size="31" fill="#262626" stroke="#262626" stroke-width="0.35">0.08</text>
<text x="1216.80" y="416.40" font-family='"Liberation Sans", sans-serif' font-size="31" fill="#262626" stroke="#262626" stroke-width="0.35">0.</text><path d="M0.360,0 L0.360,0.709 L0.290,0.709 C0.276,0.655 0.246,0.618 0.190,0.606 C0.160,0.600 0.125,0.598 0.092,0.597 L0.092,0.522 L0.268,0.522 L0.268,0 Z" transform="translate(1242.65 416.40) scale(31 -31)" fill="#262626" stroke="#262626" stroke-width="0.0113"/>
<text x="1344.70" y="416.40" font-family='"Liberation Sans", sans-serif' font-size="31" fill="#262626" stroke="#262626" stroke-width="0.35">0.</text><path d="M0.360,0 L0.360,0.709 L0.290,0.709 C0.276,0.655 0.246,0.618 0.190,0.606 C0.160,0.600 0.125,0.598 0.092,0.597 L0.092,0.522 L0.268,0.522 L0.268,0 Z" transform="translate(1370.55 416.40) scale(31 -31)" fill="#262626" stroke="#262626" stroke-width="0.0113"/><text x="1387.79" y="416.40" font-family='"Liberation Sans", sans-serif' font-size="31" fill="#262626" stroke="#262626" stroke-width="0.35">2</text>
<text x="232.82" y="30.20" font-family='"Liberation Serif", serif' font-size="34.0" fill="#000" textLength="120.65" lengthAdjust="spacingAndGlyphs">pressure</text>
<text x="365.07" y="30.20" font-family='"Liberation Serif", serif' font-size="34.0" fill="#000" textLength="151.56" lengthAdjust="spacingAndGlyphs">waveforms</text>
<text x="925.94" y="29.80" font-family='"Liberation Serif", serif' font-size="34.0" fill="#000" textLength="84.89" lengthAdjust="spacingAndGlyphs">single</text>
<text x="1022.20" y="29.80" font-family='"Liberation Serif", serif' font-size="34.0" fill="#000" textLength="126.16" lengthAdjust="spacingAndGlyphs">ventricle</text>
<text x="1158.39" y="29.80" font-family='"Liberation Serif", serif' font-size="34.0" fill="#000" textLength="48.94" lengthAdjust="spacingAndGlyphs">PV</text>
<text x="1218.38" y="29.80" font-family='"Liberation Serif", serif' font-size="34.0" fill="#000" textLength="64.12" lengthAdjust="spacingAndGlyphs">loop</text>
<text x="259.73" y="454.20" font-family='"Liberation Serif", serif' font-size="34.0" fill="#262626" textLength="65.47" lengthAdjust="spacingAndGlyphs">time</text>
<text x="335.98" y="454.20" font-family='"Liberation Serif", serif' font-size="34.0" fill="#262626" textLength="26.73" lengthAdjust="spacingAndGlyphs">in</text>
<text x="374.74" y="454.20" font-family='"Liberation Serif", serif' font-size="34.0" fill="#262626" textLength="115.19" lengthAdjust="spacingAndGlyphs">minutes</text>
<text x="990.30" y="454.20" font-family='"Liberation Serif", serif' font-size="34.0" fill="#262626" textLength="104.91" lengthAdjust="spacingAndGlyphs">volume</text>
<text x="1106.56" y="454.20" font-family='"Liberation Serif", serif' font-size="34.0" fill="#262626" textLength="27.47" lengthAdjust="spacingAndGlyphs">in</text>
<text x="1145.75" y="454.20" font-family='"Liberation Serif", serif' font-size="34.0" fill="#262626" textLength="74.61" lengthAdjust="spacingAndGlyphs">liters</text>
<text x="23.00" y="347.28" font-family='"Liberation Serif", serif' font-size="34.0" fill="#262626" textLength="119.94" lengthAdjust="spacingAndGlyphs" transform="rotate(-90 23.00 347.28)">pressure</text>
<text x="23.00" y="217.07" font-family='"Liberation Serif", serif' font-size="34.0" fill="#262626" textLength="28.62" lengthAdjust="spacingAndGlyphs" transform="rotate(-90 23.00 217.07)">in</text>
<text x="23.00" y="177.44" font-family='"Liberation Serif", serif' font-size="34.0" fill="#262626" textLength="98.21" lengthAdjust="spacingAndGlyphs" transform="rotate(-90 23.00 177.44)">mmHg</text>
<text x="742.70" y="348.09" font-family='"Liberation Serif", serif' font-size="34.0" fill="#262626" textLength="122.58" lengthAdjust="spacingAndGlyphs" transform="rotate(-90 742.70 348.09)">pressure</text>
<text x="742.70" y="215.27" font-family='"Liberation Serif", serif' font-size="34.0" fill="#262626" textLength="28.51" lengthAdjust="spacingAndGlyphs" transform="rotate(-90 742.70 215.27)">in</text>
<text x="742.70" y="175.75" font-family='"Liberation Serif", serif' font-size="34.0" fill="#262626" textLength="99.63" lengthAdjust="spacingAndGlyphs" transform="rotate(-90 742.70 175.75)">mmHg</text>
<text x="207.63" y="88.00" font-family='"Liberation Serif", serif' font-size="28.5" fill="#000" textLength="68.26" lengthAdjust="spacingAndGlyphs">single</text>
<text x="284.80" y="88.00" font-family='"Liberation Serif", serif' font-size="28.5" fill="#000" textLength="101.62" lengthAdjust="spacingAndGlyphs">ventricle</text>
<text x="449.71" y="88.00" font-family='"Liberation Serif", serif' font-size="28.5" fill="#000" textLength="44.20" lengthAdjust="spacingAndGlyphs">sys.</text>
<text x="506.34" y="88.00" font-family='"Liberation Serif", serif' font-size="28.5" fill="#000" textLength="89.16" lengthAdjust="spacingAndGlyphs">arteries</text>
</svg>
</body></html>
